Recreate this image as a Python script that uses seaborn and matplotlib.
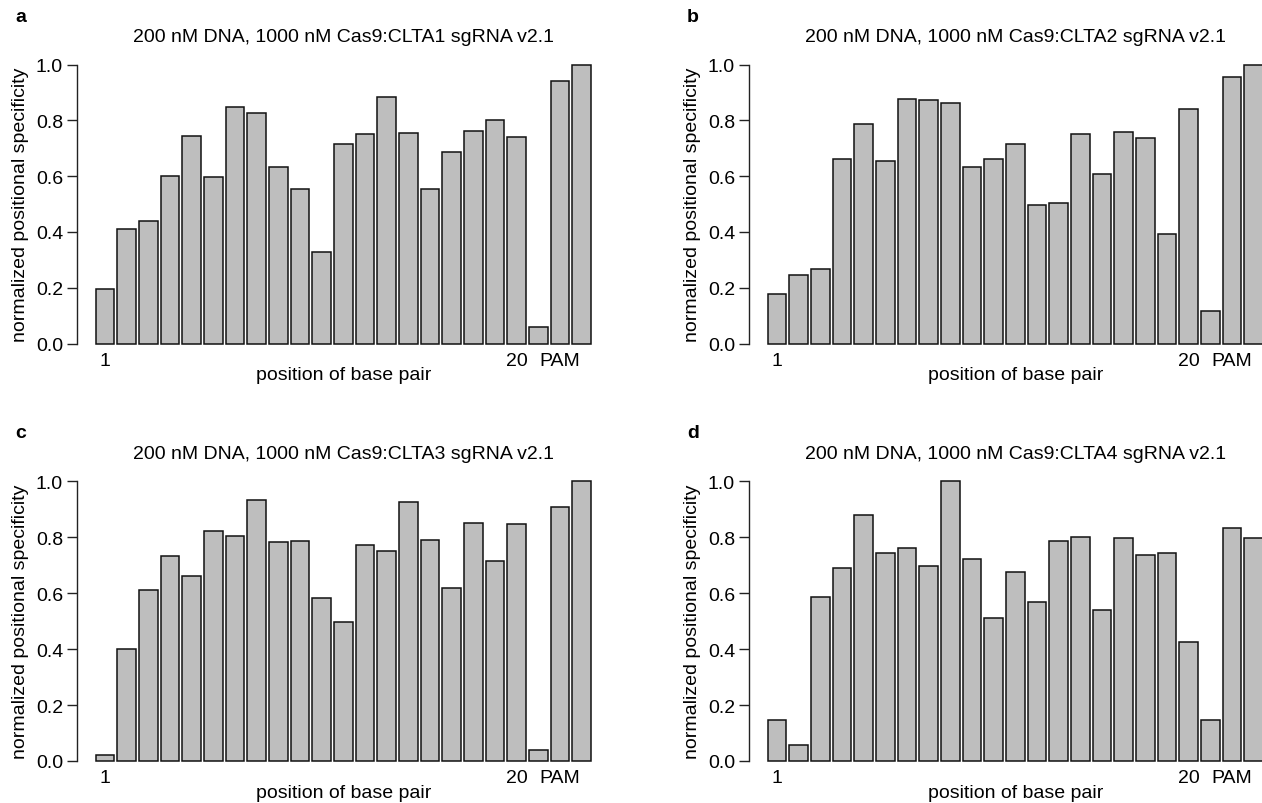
import pandas as pd
import matplotlib
matplotlib.use('Agg')
import matplotlib.pyplot as plt
import seaborn as sns

# positions along the protospacer + PAM
positions = [str(i) for i in range(1, 21)] + ['PAM1', 'PAM2', 'PAM3']
tick_idx = [0, 19, 21]
tick_labels = ['1', '20', 'PAM']

clta1 = [0.195, 0.412, 0.438, 0.599, 0.745, 0.596, 0.848, 0.825, 0.633, 0.554,
         0.329, 0.714, 0.751, 0.882, 0.754, 0.552, 0.688, 0.761, 0.800, 0.739,
         0.060, 0.942, 1.000]
clta2 = [0.177, 0.245, 0.267, 0.660, 0.788, 0.655, 0.877, 0.873, 0.861, 0.631,
         0.662, 0.714, 0.495, 0.502, 0.751, 0.606, 0.758, 0.735, 0.393, 0.840,
         0.115, 0.954, 1.000]
clta3 = [0.020, 0.399, 0.610, 0.732, 0.663, 0.822, 0.805, 0.932, 0.784, 0.787,
         0.584, 0.498, 0.774, 0.750, 0.926, 0.789, 0.620, 0.851, 0.714, 0.846,
         0.041, 0.909, 1.000]
clta4 = [0.145, 0.056, 0.588, 0.689, 0.880, 0.743, 0.760, 0.696, 1.000, 0.723,
         0.510, 0.675, 0.570, 0.787, 0.800, 0.541, 0.797, 0.738, 0.745, 0.424,
         0.148, 0.832, 0.797]

titles = ['200 nM DNA, 1000 nM Cas9:CLTA1 sgRNA v2.1',
          '200 nM DNA, 1000 nM Cas9:CLTA2 sgRNA v2.1',
          '200 nM DNA, 1000 nM Cas9:CLTA3 sgRNA v2.1',
          '200 nM DNA, 1000 nM Cas9:CLTA4 sgRNA v2.1']
letters = ['a', 'b', 'c', 'd']

sns.set_theme(style='ticks')
plt.rcParams['font.family'] = ['Liberation Sans', 'DejaVu Sans']
plt.rcParams['font.size'] = 14
plt.rcParams['text.color'] = 'black'
plt.rcParams['axes.labelcolor'] = 'black'
plt.rcParams['xtick.color'] = 'black'
plt.rcParams['ytick.color'] = 'black'

W, H = 1262, 804
fig = plt.figure(figsize=(W / 100, H / 100), dpi=100)

# axes boxes in pixels: (left, y of value 0, y of value 1)
boxes = [(77, 344.5, 65.5), (749, 344.5, 65.5), (77, 762, 482.3), (749, 762, 482.3)]
letter_pos = [(15, 17), (687, 17), (15, 434), (687, 434)]
ax_w = 532.7
slot = 21.67
xpad = 28 / slot

for vals, title, (left, y0, y1), let, (lx, ly) in zip(
        [clta1, clta2, clta3, clta4], titles, boxes, letters, letter_pos):
    ax = fig.add_axes([left / W, 1 - y0 / H, ax_w / W, (y0 - y1) / H])
    df = pd.DataFrame({'position': positions, 'specificity': vals})
    sns.barplot(data=df, x='position', y='specificity', order=positions,
                color='#bebebe', saturation=1, edgecolor='#111111',
                linewidth=1.1, width=0.87, errorbar=None, ax=ax)
    for p in ax.patches:
        p.set_clip_on(False)
    ax.set_xlim(-xpad, 22 + xpad)
    ax.set_ylim(0, 1)
    ax.set_yticks([0, 0.2, 0.4, 0.6, 0.8, 1.0])
    ax.set_yticklabels(['0.0', '0.2', '0.4', '0.6', '0.8', '1.0'])
    ax.set_xticks(tick_idx)
    ax.set_xticklabels(tick_labels)
    ax.tick_params(axis='x', length=0, pad=6, labelsize=14)
    ax.tick_params(axis='y', length=7.5, width=1, pad=2.5, labelsize=14,
                   color='#222222')
    for s in ['top', 'right', 'bottom']:
        ax.spines[s].set_visible(False)
    ax.spines['left'].set_linewidth(1)
    ax.spines['left'].set_color('#222222')
    ax.set_facecolor('none')
    ax.set_title(title, fontsize=14, pad=17)
    ax.set_xlabel('position of base pair', fontsize=14)
    ax.set_ylabel('normalized positional specificity', fontsize=14)
    ax.xaxis.set_label_coords(0.5, -0.081)
    ax.yaxis.set_label_coords(-0.090, 0.5)
    fig.text(lx / W, 1 - ly / H, let, fontsize=14, fontweight='bold',
             ha='left', va='center')

fig.savefig('out.png', dpi=100)
